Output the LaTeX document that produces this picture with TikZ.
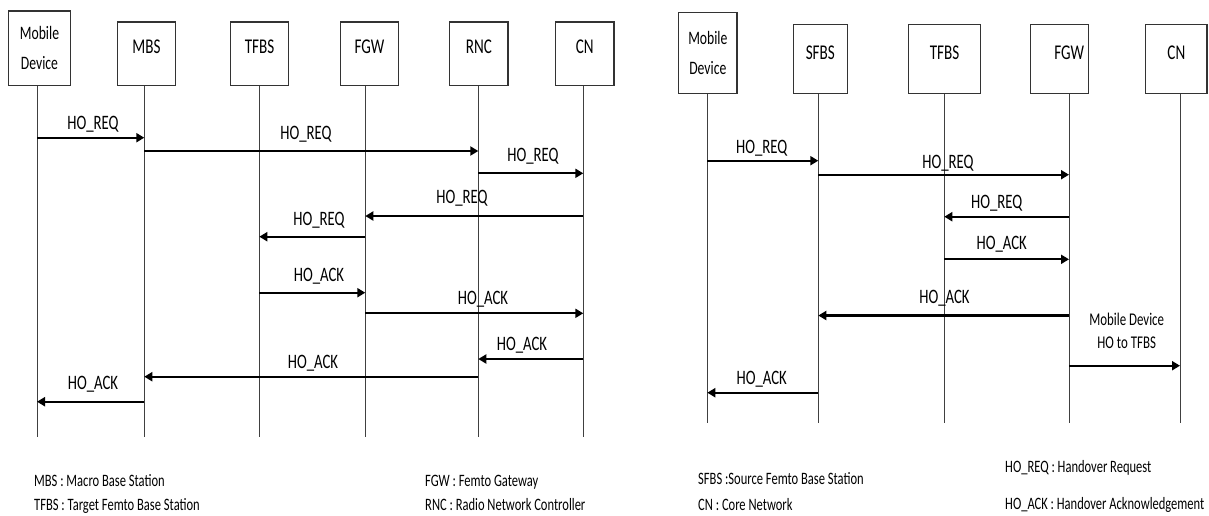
\documentclass[tikz,border=0pt]{standalone}
\usepackage{fontspec}
\setmainfont{Carlito}[FakeStretch=0.72]
\usetikzlibrary{arrows.meta}
\begin{document}
\begin{tikzpicture}[x=1pt,y=-1pt,
  box/.style={draw=black!80, line width=1.2pt, inner sep=0pt, text height=0pt, text depth=0pt,
    minimum width=58.4pt, minimum height=63.7pt, font=\fontsize{21}{25}\selectfont},
  mdbox/.style={draw=black!80, line width=1.2pt, inner sep=0pt, align=center,
    font=\fontsize{19}{30}\selectfont},
  life/.style={draw=black!75, line width=1pt},
  msg/.style={draw=black, line width=2.2pt, -{Triangle[length=8pt,width=9pt]}},
  lbl/.style={inner sep=0pt, text height=13.2pt, text depth=0pt, font=\fontsize{20.5}{24}\selectfont},
  leg/.style={anchor=west, inner sep=0pt, text height=11.2pt, text depth=0pt, font=\fontsize{17.4}{20}\selectfont}]
\useasboundingbox (0,0) rectangle (1209,515);

% ---------- left diagram ----------
\node[mdbox, minimum width=62.4pt, minimum height=74.7pt] (bMD) at (39.5,48.35) {Mobile\\Device};
\node[box] (bMBS) at (146.5,53.85) {MBS};
\node[box] (bTFBS) at (259.5,53.85) {TFBS};
\node[box] (bFGW) at (369.5,53.85) {FGW};
\node[box] (bRNC) at (478.85,53.85) {RNC};
\node[box] (bCN) at (584.7,53.85) {CN};

\coordinate (tMD) at (37,85.7);   \coordinate (eMD) at (37,436.7);
\coordinate (tMBS) at (144.3,85.7); \coordinate (eMBS) at (144.3,436.7);
\coordinate (tTFBS) at (259.3,85.7); \coordinate (eTFBS) at (259.3,436.7);
\coordinate (tFGW) at (365.3,85.7); \coordinate (eFGW) at (365.3,436.7);
\coordinate (tRNC) at (478.3,85.7); \coordinate (eRNC) at (478.3,436.7);
\coordinate (tCN) at (583.3,85.7); \coordinate (eCN) at (583.3,436.7);
\foreach \n in {MD,MBS,TFBS,FGW,RNC,CN} \draw[life] (t\n) -- (e\n);

\draw[msg] (tMD |- 0,137.7) -- (tMBS |- 0,137.7);
\draw[msg] (tMBS |- 0,151) -- (tRNC |- 0,151);
\draw[msg] (tRNC |- 0,173.3) -- (tCN |- 0,173.3);
\draw[msg] (tCN |- 0,216) -- (tFGW |- 0,216);
\draw[msg] (tFGW |- 0,236.7) -- (tTFBS |- 0,236.7);
\draw[msg] (tTFBS |- 0,292.7) -- (tFGW |- 0,292.7);
\draw[msg] (tFGW |- 0,313.3) -- (tCN |- 0,313.3);
\draw[msg] (tCN |- 0,359) -- (tRNC |- 0,359);
\draw[msg] (tRNC |- 0,376.7) -- (tMBS |- 0,376.7);
\draw[msg] (tMBS |- 0,401.7) -- (tMD |- 0,401.7);

\node[lbl] (l1) at (93,123.3) {HO\_REQ};
\node[lbl] (l2) at (306,133.3) {HO\_REQ};
\node[lbl] (l3) at (533,155) {HO\_REQ};
\node[lbl] (l4) at (462,196.7) {HO\_REQ};
\node[lbl] (l5) at (319,219) {HO\_REQ};
\node[lbl] (l6) at (319,275) {HO\_ACK};
\node[lbl] (l7) at (483,298.3) {HO\_ACK};
\node[lbl] (l8) at (522,344) {HO\_ACK};
\node[lbl] (l9) at (313,361.7) {HO\_ACK};
\node[lbl] (l10) at (93,383.3) {HO\_ACK};

% ---------- right diagram ----------
\node[mdbox, minimum width=58.3pt, minimum height=81pt] (rMD) at (707.85,53.2) {Mobile\\Device};
\node[box, minimum width=54pt, minimum height=69.4pt] (rSFBS) at (820.3,59) {SFBS};
\node[box, minimum width=71.6pt, minimum height=69.4pt] (rTFBS) at (944.5,59) {TFBS};
\node[box, minimum width=58.3pt, minimum height=69.4pt] (rFGW) at (1059.7,59) {\hspace*{19pt}FGW};
\node[box, minimum width=61.3pt, minimum height=69.4pt] (rCN) at (1176.35,59) {CN};

\coordinate (uMD) at (707.3,93.7);   \coordinate (fMD) at (707.3,423.3);
\coordinate (uSFBS) at (818.3,93.7); \coordinate (fSFBS) at (818.3,423.3);
\coordinate (uTFBS) at (944.3,93.7); \coordinate (fTFBS) at (944.3,423.3);
\coordinate (uFGW) at (1069,93.7);   \coordinate (fFGW) at (1069,423.3);
\coordinate (uCN) at (1180,93.7);    \coordinate (fCN) at (1180,423.3);
\foreach \n in {MD,SFBS,TFBS,FGW,CN} \draw[life] (u\n) -- (f\n);

\draw[msg] (uMD |- 0,160.7) -- (uSFBS |- 0,160.7);
\draw[msg] (uSFBS |- 0,174.7) -- (uFGW |- 0,174.7);
\draw[msg] (uFGW |- 0,216.7) -- (uTFBS |- 0,216.7);
\draw[msg] (uTFBS |- 0,259.3) -- (uFGW |- 0,259.3);
\draw[msg] (uFGW |- 0,315.5) -- (uSFBS |- 0,315.5);
\draw[msg] (uFGW |- 0,365.7) -- (uCN |- 0,365.7);
\draw[msg] (uSFBS |- 0,392.7) -- (uMD |- 0,392.7);

\node[lbl] (r1) at (761.7,146.7) {HO\_REQ};
\node[lbl] (r2) at (948,161.5) {HO\_REQ};
\node[lbl] (r3) at (996.7,201.7) {HO\_REQ};
\node[lbl] (r4) at (1001.7,243.3) {HO\_ACK};
\node[lbl] (r5) at (944.5,296.5) {HO\_ACK};
\node[inner sep=0pt, align=center, font=\fontsize{17.9}{23.3}\selectfont] (r6) at (1126.7,331) {Mobile Device\\HO to TFBS};
\node[lbl] (r7) at (761.7,378.3) {HO\_ACK};

% ---------- legends ----------
\node[leg] (g1) at (34,481) {MBS : Macro Base Station};
\node[leg] (g2) at (34,505) {TFBS : Target Femto Base Station};
\node[leg] (g3) at (425,481) {FGW : Femto Gateway};
\node[leg] (g4) at (425,505) {RNC : Radio Network Controller};
\node[leg] (g5) at (698,479) {SFBS :Source Femto Base Station};
\node[leg] (g6) at (698,505) {CN : Core Network};
\node[leg] (g7) at (1005,467) {HO\_REQ : Handover Request};
\node[leg] (g8) at (1005,504) {HO\_ACK : Handover Acknowledgement};
\end{tikzpicture}
\end{document}
